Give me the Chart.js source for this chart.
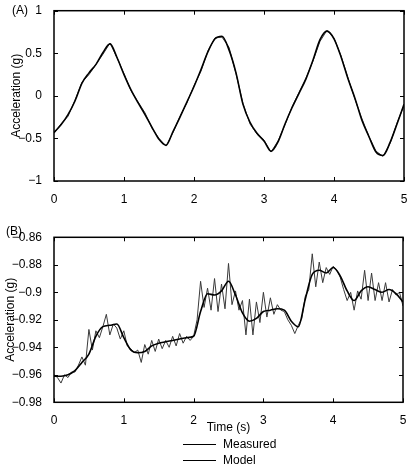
<!DOCTYPE html>
<html>
<head>
<meta charset="utf-8">
<script src="https://cdn.jsdelivr.net/npm/chart.js@4.4.0/dist/chart.umd.min.js"></script>
<style>
  html, body { margin: 0; padding: 0; background: #fff; }
  body { width: 408px; height: 466px; position: relative; overflow: hidden; font-family: "Liberation Sans", Arial, sans-serif; color: #000; }
  .panel { position: absolute; left: 0; }
  #wrapA { top: 0; }
  #wrapB { top: 215px; }
  .tag { position: absolute; font-size: 12px; line-height: 14px; }
  #legend { position: absolute; left: 183px; top: 436px; font-size: 12px; }
  .item { height: 16px; display: flex; align-items: center; }
  .swatch { width: 33px; border-top: 1px solid #000; margin-right: 7px; }
</style>
</head>
<body>
<div class="panel" id="wrapA"><canvas id="chartA" width="408" height="205"></canvas></div>
<div class="panel" id="wrapB"><canvas id="chartB" width="408" height="225"></canvas></div>
<div class="tag" style="left:12px; top:3px;">(A)</div>
<div class="tag" style="left:6px; top:224px;">(B)</div>
<div id="legend">
  <div class="item"><span class="swatch"></span>Measured</div>
  <div class="item"><span class="swatch"></span>Model</div>
</div>
<script>
const $ = (id) => document.getElementById(id);

// panel A: 0.1 s samples
const timeA = [0, 0.1, 0.2, 0.3, 0.4, 0.5, 0.6, 0.7, 0.8, 0.9, 1, 1.1, 1.2, 1.3, 1.4, 1.5, 1.6, 1.7, 1.8, 1.9,
  2, 2.1, 2.2, 2.3, 2.4, 2.5, 2.6, 2.7, 2.8, 2.9, 3, 3.1, 3.2, 3.3, 3.4, 3.5, 3.6, 3.7, 3.8, 3.9,
  4, 4.1, 4.2, 4.3, 4.4, 4.5, 4.6, 4.7, 4.8, 4.9, 5];
const modelA = [-0.43, -0.34, -0.22, -0.06, 0.15, 0.27, 0.37, 0.51, 0.61, 0.45, 0.25, 0.07, -0.08, -0.22, -0.37, -0.51, -0.58, -0.42, -0.25, -0.07,
  0.11, 0.31, 0.52, 0.67, 0.70, 0.54, 0.27, -0.10, -0.31, -0.44, -0.53, -0.65, -0.54, -0.33, -0.14, 0.03, 0.20, 0.42, 0.66, 0.76,
  0.67, 0.46, 0.20, -0.03, -0.29, -0.48, -0.66, -0.70, -0.55, -0.33, -0.10];
const measuredA = [-0.44, -0.33, -0.24, -0.05, 0.16, 0.25, 0.37, 0.49, 0.62, 0.45, 0.26, 0.06, -0.07, -0.20, -0.38, -0.50, -0.59, -0.43, -0.24, -0.08,
  0.12, 0.29, 0.53, 0.68, 0.69, 0.57, 0.26, -0.09, -0.33, -0.45, -0.52, -0.66, -0.53, -0.34, -0.13, 0.04, 0.21, 0.41, 0.64, 0.77,
  0.68, 0.47, 0.21, -0.04, -0.27, -0.48, -0.65, -0.71, -0.56, -0.32, -0.11];

// panel B: model at 0.1 s, measured at 0.05 s
const modelB = [-0.961, -0.961, -0.960, -0.957, -0.951, -0.945, -0.932, -0.925, -0.924, -0.923, -0.933, -0.942, -0.944, -0.943, -0.939, -0.937, -0.936, -0.935, -0.934, -0.933,
  -0.932, -0.914, -0.901, -0.902, -0.899, -0.892, -0.902, -0.915, -0.921, -0.919, -0.914, -0.913, -0.912, -0.913, -0.921, -0.925, -0.905, -0.887, -0.884, -0.886,
  -0.882, -0.888, -0.899, -0.906, -0.899, -0.896, -0.898, -0.900, -0.898, -0.901, -0.907];
const timeB = [0, 0.05, 0.1, 0.15, 0.2, 0.25, 0.3, 0.35, 0.4, 0.45, 0.5, 0.55, 0.6, 0.65, 0.7, 0.75, 0.8, 0.85, 0.9, 0.95,
  1, 1.05, 1.1, 1.15, 1.2, 1.25, 1.3, 1.35, 1.4, 1.45, 1.5, 1.55, 1.6, 1.65, 1.7, 1.75, 1.8, 1.85, 1.9, 1.95,
  2, 2.05, 2.1, 2.15, 2.2, 2.25, 2.3, 2.35, 2.4, 2.45, 2.5, 2.55, 2.6, 2.65, 2.7, 2.75, 2.8, 2.85, 2.9, 2.95,
  3, 3.05, 3.1, 3.15, 3.2, 3.25, 3.3, 3.35, 3.4, 3.45, 3.5, 3.55, 3.6, 3.65, 3.7, 3.75, 3.8, 3.85, 3.9, 3.95,
  4, 4.05, 4.1, 4.15, 4.2, 4.25, 4.3, 4.35, 4.4, 4.45, 4.5, 4.55, 4.6, 4.65, 4.7, 4.75, 4.8, 4.85, 4.9, 4.95, 5];
const measuredB = [-0.960, -0.962, -0.966, -0.960, -0.962, -0.958, -0.958, -0.953, -0.947, -0.953, -0.927, -0.942, -0.928, -0.933, -0.925, -0.916, -0.931, -0.923, -0.926, -0.934,
  -0.928, -0.939, -0.941, -0.944, -0.942, -0.951, -0.938, -0.945, -0.935, -0.943, -0.934, -0.941, -0.935, -0.940, -0.932, -0.939, -0.930, -0.937, -0.932, -0.935,
  -0.932, -0.920, -0.892, -0.911, -0.897, -0.913, -0.890, -0.914, -0.894, -0.912, -0.879, -0.909, -0.899, -0.913, -0.906, -0.931, -0.905, -0.931, -0.907, -0.922,
  -0.900, -0.918, -0.904, -0.916, -0.909, -0.913, -0.914, -0.920, -0.924, -0.930, -0.924, -0.919, -0.903, -0.898, -0.872, -0.896, -0.878, -0.893, -0.882, -0.887,
  -0.881, -0.884, -0.889, -0.898, -0.906, -0.900, -0.913, -0.899, -0.905, -0.884, -0.906, -0.886, -0.906, -0.893, -0.906, -0.893, -0.907, -0.898, -0.902, -0.900, -0.910];

const FONT = { family: "'Liberation Sans', Arial, sans-serif", size: 12 };
const TICK = 4;

const fmt = (v) => String(+Number(v).toFixed(2)).replace("-", "\u2212");
const pts = (xs, ys) => ys.map((y, i) => ({ x: xs[i], y }));

// box + inward ticks, matlab style
const frameTicks = {
  id: "frameTicks",
  afterDatasetsDraw(chart) {
    const { ctx, chartArea: a, scales: { x, y } } = chart;
    ctx.save();
    ctx.strokeStyle = "#000";
    ctx.lineWidth = 1;
    ctx.beginPath();
    for (const t of x.ticks) {
      const px = Math.round(x.getPixelForValue(t.value)) + 0.5;
      ctx.moveTo(px, a.bottom); ctx.lineTo(px, a.bottom - TICK);
      ctx.moveTo(px, a.top); ctx.lineTo(px, a.top + TICK);
    }
    for (const t of y.ticks) {
      const py = Math.round(y.getPixelForValue(t.value)) + 0.5;
      ctx.moveTo(a.left, py); ctx.lineTo(a.left + TICK, py);
      ctx.moveTo(a.right, py); ctx.lineTo(a.right - TICK, py);
    }
    ctx.stroke();
    ctx.lineWidth = 1.5;
    ctx.strokeRect(a.left, a.top, a.right - a.left, a.bottom - a.top);
    ctx.restore();
  },
};

function fixed(prop, size) {
  return (s) => {
    s[prop] = size;
    s.paddingTop = s.paddingBottom = s.paddingLeft = s.paddingRight = 0;
  };
}

function makeChart(id, opts) {
  return new Chart($(id).getContext("2d"), {
    type: "line",
    data: {
      datasets: [
        {
          label: "Model", data: opts.model, order: 0,
          borderColor: "#000", borderWidth: 1.6, pointRadius: 0,
          cubicInterpolationMode: "monotone",
        },
        {
          label: "Measured", data: opts.measured, order: 1,
          borderColor: "#3a3a3a", borderWidth: 1, pointRadius: 0, tension: 0,
        },
      ],
    },
    options: {
      responsive: false, animation: false, devicePixelRatio: 1,
      layout: { padding: opts.padding },
      scales: {
        x: {
          type: "linear", min: 0, max: 5,
          grid: { display: false }, border: { display: false },
          ticks: { stepSize: 1, color: "#000", font: FONT, padding: 3, callback: fmt, maxRotation: 0 },
          title: opts.xTitle
            ? { display: true, text: "Time (s)", color: "#000", font: FONT, padding: { top: 2, bottom: 4.8 } }
            : { display: false },
          afterFit: fixed("height", opts.xHeight),
        },
        y: {
          min: opts.yMin, max: opts.yMax,
          grid: { display: false }, border: { display: false },
          ticks: { stepSize: opts.yStep, color: "#000", font: FONT, padding: 4, callback: fmt },
          title: { display: true, text: "Acceleration (g)", color: "#000", font: FONT, padding: { top: opts.yTitlePad, bottom: 0 } },
          afterFit: fixed("width", 54),
        },
      },
      plugins: { legend: { display: false }, tooltip: { enabled: false } },
    },
    plugins: [frameTicks],
  });
}

makeChart("chartA", {
  model: pts(timeA, modelA),
  measured: pts(timeA, measuredA),
  padding: { top: 10.7, right: 4, bottom: 0, left: 0 },
  xHeight: 24, yMin: -1, yMax: 1, yStep: 0.5, yTitlePad: 9.5, xTitle: false,
});

makeChart("chartB", {
  model: pts(timeA, modelB),
  measured: pts(timeB, measuredB),
  padding: { top: 22.3, right: 5, bottom: 0, left: 0 },
  xHeight: 37.7, yMin: -0.98, yMax: -0.86, yStep: 0.02, yTitlePad: 3.3, xTitle: true,
});
</script>
</body>
</html>
